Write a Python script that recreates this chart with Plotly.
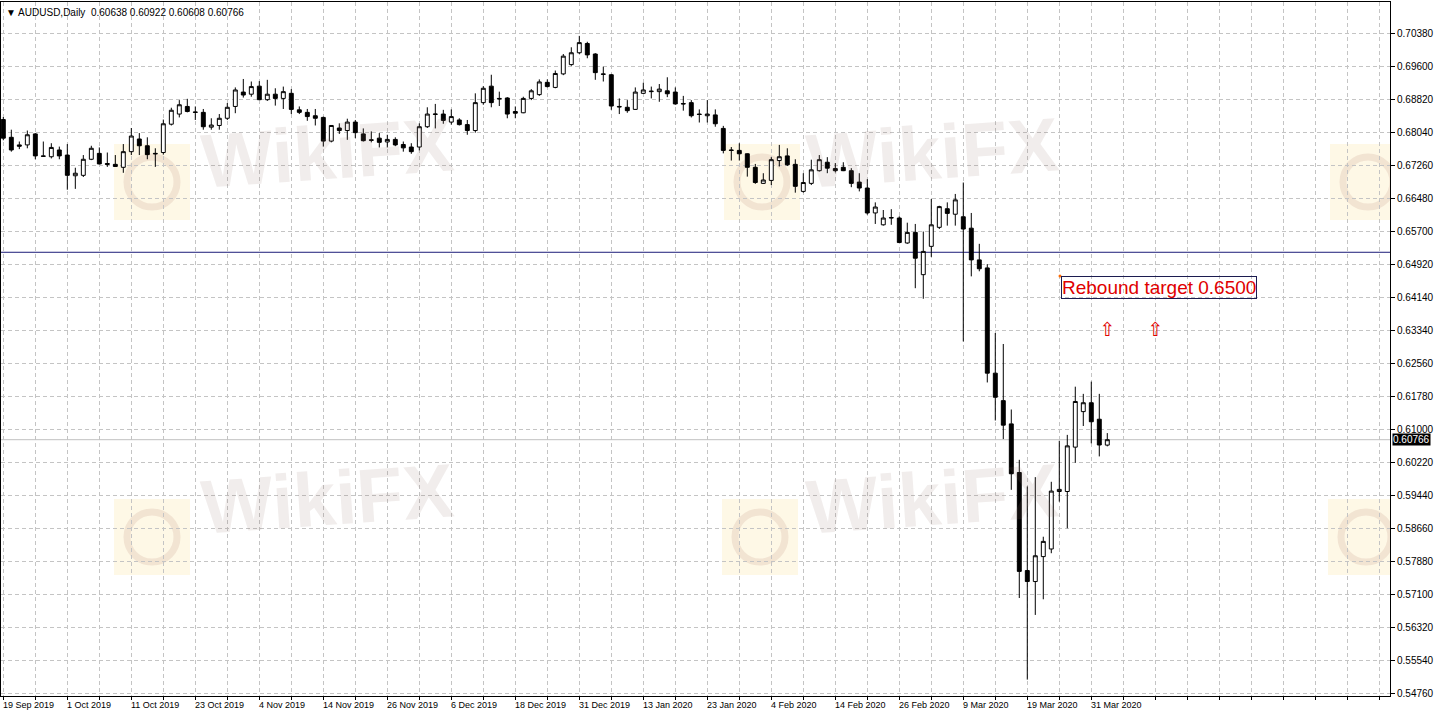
import plotly.graph_objects as go

# AUDUSD daily candles, 19 Sep 2019 .. 2 Apr 2020
opens = [0.6834, 0.6792, 0.6774, 0.6774, 0.6800, 0.6748, 0.6746, 0.6762, 0.6750, 0.6701,
         0.6702, 0.6740, 0.6754, 0.6730, 0.6728, 0.6721, 0.6758, 0.6788, 0.6772, 0.6754,
         0.6756, 0.6823, 0.6847, 0.6865, 0.6852, 0.6851, 0.6816, 0.6820, 0.6837, 0.6865,
         0.6899, 0.6894, 0.6913, 0.6881, 0.6894, 0.6884, 0.6896, 0.6857, 0.6851, 0.6843,
         0.6839, 0.6783, 0.6814, 0.6808, 0.6828, 0.6800, 0.6786, 0.6790, 0.6781, 0.6787,
         0.6775, 0.6769, 0.6769, 0.6817, 0.6846, 0.6847, 0.6828, 0.6833, 0.6822, 0.6808,
         0.6874, 0.6913, 0.6884, 0.6885, 0.6853, 0.6850, 0.6884, 0.6893, 0.6922, 0.6910,
         0.6942, 0.6964, 0.6992, 0.7014, 0.6989, 0.6942, 0.6940, 0.6865, 0.6863, 0.6858,
         0.6896, 0.6900, 0.6900, 0.6902, 0.6899, 0.6872, 0.6874, 0.6847, 0.6843, 0.6845,
         0.6813, 0.6762, 0.6761, 0.6753, 0.6721, 0.6683, 0.6690, 0.6737, 0.6748, 0.6728,
         0.6664, 0.6683, 0.6713, 0.6733, 0.6718, 0.6721, 0.6713, 0.6686, 0.6672, 0.6613,
         0.6585, 0.6601, 0.6601, 0.6542, 0.6567, 0.6467, 0.6534, 0.6579, 0.6623, 0.6610,
         0.6604, 0.6577, 0.6502, 0.6483, 0.6234, 0.6169, 0.6114, 0.5999, 0.5767, 0.5741,
         0.5800, 0.5818, 0.5954, 0.5954, 0.6059, 0.6143, 0.6164, 0.6125, 0.60638]
highs = [0.6840, 0.6810, 0.6782, 0.6808, 0.6802, 0.6782, 0.6778, 0.6770, 0.6776, 0.6720,
         0.6750, 0.6772, 0.6768, 0.6756, 0.6750, 0.6776, 0.6814, 0.6802, 0.6792, 0.6766,
         0.6834, 0.6862, 0.6880, 0.6883, 0.6865, 0.6859, 0.6837, 0.6847, 0.6873, 0.6910,
         0.6930, 0.6924, 0.6925, 0.6928, 0.6908, 0.6912, 0.6906, 0.6865, 0.6859, 0.6859,
         0.6841, 0.6821, 0.6825, 0.6836, 0.6833, 0.6813, 0.6806, 0.6802, 0.6798, 0.6792,
         0.6782, 0.6778, 0.6825, 0.6863, 0.6871, 0.6857, 0.6858, 0.6837, 0.6833, 0.6896,
         0.6913, 0.6940, 0.6900, 0.6887, 0.6865, 0.6888, 0.6906, 0.6929, 0.6929, 0.6950,
         0.6989, 0.7005, 0.7032, 0.7018, 0.6991, 0.6959, 0.6942, 0.6884, 0.6880, 0.6910,
         0.6921, 0.6912, 0.6918, 0.6934, 0.6910, 0.6890, 0.6880, 0.6858, 0.6880, 0.6858,
         0.6819, 0.6769, 0.6778, 0.6754, 0.6729, 0.6707, 0.6745, 0.6774, 0.6766, 0.6740,
         0.6707, 0.6739, 0.6750, 0.6745, 0.6731, 0.6733, 0.6719, 0.6707, 0.6693, 0.6638,
         0.6620, 0.6622, 0.6605, 0.6590, 0.6587, 0.6569, 0.6646, 0.6630, 0.6638, 0.6658,
         0.6685, 0.6613, 0.6540, 0.6492, 0.6329, 0.6303, 0.6148, 0.6029, 0.5966, 0.5988,
         0.5847, 0.5977, 0.6074, 0.6088, 0.6202, 0.6185, 0.6214, 0.6185, 0.60922]
lows = [0.6785, 0.6758, 0.6764, 0.6766, 0.6740, 0.6746, 0.6742, 0.6740, 0.6668, 0.6670,
        0.6698, 0.6738, 0.6728, 0.6722, 0.6722, 0.6708, 0.6750, 0.6750, 0.6740, 0.6722,
        0.6751, 0.6820, 0.6839, 0.6851, 0.6833, 0.6810, 0.6810, 0.6810, 0.6833, 0.6849,
        0.6886, 0.6888, 0.6880, 0.6878, 0.6867, 0.6859, 0.6847, 0.6847, 0.6831, 0.6820,
        0.6770, 0.6780, 0.6800, 0.6786, 0.6790, 0.6782, 0.6780, 0.6768, 0.6768, 0.6771,
        0.6758, 0.6753, 0.6761, 0.6814, 0.6813, 0.6824, 0.6822, 0.6820, 0.6798, 0.6803,
        0.6869, 0.6863, 0.6866, 0.6837, 0.6837, 0.6849, 0.6880, 0.6890, 0.6910, 0.6908,
        0.6939, 0.6961, 0.6989, 0.6979, 0.6928, 0.6924, 0.6857, 0.6847, 0.6850, 0.6857,
        0.6895, 0.6884, 0.6876, 0.6887, 0.6869, 0.6855, 0.6839, 0.6827, 0.6827, 0.6817,
        0.6754, 0.6737, 0.6737, 0.6699, 0.6682, 0.6682, 0.6679, 0.6723, 0.6724, 0.6661,
        0.6661, 0.6679, 0.6711, 0.6707, 0.6709, 0.6712, 0.6674, 0.6664, 0.6609, 0.6587,
        0.6583, 0.6585, 0.6542, 0.6540, 0.6435, 0.6410, 0.6509, 0.6575, 0.6583, 0.6583,
        0.6309, 0.6463, 0.6475, 0.6212, 0.6122, 0.6078, 0.5958, 0.5702, 0.5509, 0.5662,
        0.5699, 0.5808, 0.5930, 0.5867, 0.6022, 0.6109, 0.6068, 0.6037, 0.60608]
closes = [0.6790, 0.6762, 0.6771, 0.6798, 0.6748, 0.6747, 0.6768, 0.6748, 0.6702, 0.6707,
          0.6740, 0.6766, 0.6729, 0.6728, 0.6723, 0.6758, 0.6795, 0.6772, 0.6751, 0.6753,
          0.6824, 0.6856, 0.6869, 0.6853, 0.6851, 0.6817, 0.6821, 0.6837, 0.6863, 0.6904,
          0.6892, 0.6912, 0.6881, 0.6894, 0.6884, 0.6900, 0.6858, 0.6851, 0.6841, 0.6837,
          0.6783, 0.6820, 0.6808, 0.6828, 0.6803, 0.6784, 0.6785, 0.6780, 0.6787, 0.6774,
          0.6767, 0.6758, 0.6817, 0.6847, 0.6847, 0.6832, 0.6841, 0.6822, 0.6808, 0.6874,
          0.6908, 0.6874, 0.6883, 0.6847, 0.6849, 0.6884, 0.6902, 0.6923, 0.6912, 0.6943,
          0.6984, 0.6992, 0.7016, 0.6987, 0.6945, 0.6941, 0.6866, 0.6864, 0.6855, 0.6899,
          0.6904, 0.6901, 0.6906, 0.6895, 0.6871, 0.6871, 0.6843, 0.6846, 0.6847, 0.6824,
          0.6761, 0.6761, 0.6753, 0.6721, 0.6685, 0.6691, 0.6739, 0.6746, 0.6727, 0.6676,
          0.6685, 0.6715, 0.6739, 0.6719, 0.6713, 0.6713, 0.6683, 0.6672, 0.6613, 0.6627,
          0.6601, 0.6602, 0.6543, 0.6567, 0.6506, 0.6522, 0.6585, 0.6628, 0.6612, 0.6644,
          0.6575, 0.6502, 0.6481, 0.6234, 0.6177, 0.6111, 0.5996, 0.5765, 0.5741, 0.5802,
          0.5836, 0.5955, 0.5959, 0.6062, 0.6167, 0.6164, 0.6119, 0.6064, 0.60766]

# one date label every 8 bars, grid every 4 bars
date_labels = ["19 Sep 2019", "1 Oct 2019", "11 Oct 2019", "23 Oct 2019", "4 Nov 2019",
               "14 Nov 2019", "26 Nov 2019", "6 Dec 2019", "18 Dec 2019", "31 Dec 2019",
               "13 Jan 2020", "23 Jan 2020", "4 Feb 2020", "14 Feb 2020", "26 Feb 2020",
               "9 Mar 2020", "19 Mar 2020", "31 Mar 2020"]
label_step = 8
grid_step = 4

price_ticks = [0.70380, 0.69600, 0.68820, 0.68040, 0.67260, 0.66480, 0.65700, 0.64920,
               0.64140, 0.63340, 0.62560, 0.61780, 0.61000, 0.60220, 0.59440, 0.58660,
               0.57880, 0.57100, 0.56320, 0.55540, 0.54760]

bid_price = 0.60766
level_line = 0.6520
target_text = "Rebound target 0.6500"
arrow_bars = [138, 144]
arrow_price = 0.6332

bars = list(range(len(opens)))

AXIS_FONT = dict(family="Liberation Sans, Arial", size=10, color="black")
GRID = "#c4c4c4"

# pixel helpers for the decoration (plot area spans x 1..1390, y 2..696)
X_RANGE = [-0.29, 173.34]
Y_RANGE = [0.54702, 0.71121]


def px_x(px):
    return X_RANGE[0] + (px - 1) / 1389 * (X_RANGE[1] - X_RANGE[0])


def px_y(py):
    return Y_RANGE[1] - (py - 2) / 694 * (Y_RANGE[1] - Y_RANGE[0])


fig = go.Figure()

fig.add_trace(go.Candlestick(
    x=bars, open=opens, high=highs, low=lows, close=closes,
    increasing=dict(line=dict(color="black", width=1), fillcolor="white"),
    decreasing=dict(line=dict(color="black", width=1), fillcolor="black"),
    whiskerwidth=0, showlegend=False, hoverinfo="skip"))

fig.add_trace(go.Scatter(
    x=arrow_bars, y=[arrow_price] * len(arrow_bars), mode="text", text=["⇧"] * len(arrow_bars),
    textfont=dict(family="DejaVu Sans", size=19, color="#e00000"), showlegend=False,
    hoverinfo="skip"))

# watermark logos (pale squares) + text
logos = [(152, 182), (762, 182), (1368, 182), (152, 537), (760, 537), (1366, 537)]
for cx, cy in logos:
    fig.add_shape(type="rect", xref="x", yref="y", layer="below",
                  x0=px_x(cx - 38), x1=px_x(cx + 38), y0=px_y(cy + 38), y1=px_y(cy - 38),
                  fillcolor="rgba(252,222,140,0.22)", line=dict(width=0))
    fig.add_shape(type="circle", xref="x", yref="y", layer="below",
                  x0=px_x(cx - 25), x1=px_x(cx + 25), y0=px_y(cy + 25), y1=px_y(cy - 25),
                  fillcolor="rgba(0,0,0,0)", line=dict(color="rgba(190,140,120,0.18)", width=7))
for cx, cy in [(327, 152), (932, 152), (327, 498), (932, 498)]:
    fig.add_annotation(x=(cx - 1) / 1389, y=(696 - cy) / 694, xref="paper", yref="paper",
                       xanchor="center", yanchor="middle",
                       text="<b>WikiFX</b>", showarrow=False, textangle=-4,
                       font=dict(family="Liberation Sans", size=76, color="rgba(150,115,105,0.13)"))

fig.add_hline(y=level_line, line=dict(color="#1c1c78", width=1), layer="below")
fig.add_hline(y=bid_price, line=dict(color="#c0c0c0", width=1), layer="below")

# text object with its frame
fig.add_annotation(x=px_x(1061), y=px_y(276), xref="x", yref="y", xanchor="left",
                   yanchor="top", text=target_text, showarrow=False,
                   font=dict(family="Liberation Sans, Arial", size=19, color="#e00000"),
                   bordercolor="#1c1c50", borderwidth=1, borderpad=0, bgcolor="rgba(0,0,0,0)")
fig.add_trace(go.Scatter(x=[px_x(1060)], y=[px_y(276)], mode="markers",
                         marker=dict(size=3, color="#ff6a00"), showlegend=False,
                         hoverinfo="skip"))

# current price tag on the price scale
fig.add_annotation(x=1, y=bid_price, xref="paper", yref="y", xanchor="left", xshift=2,
                   text=f"{bid_price:.5f}", showarrow=False, bgcolor="black",
                   font=dict(AXIS_FONT, color="white"), borderpad=0)

# date labels, left-aligned on their bar like MT4
for i, lab in enumerate(date_labels):
    fig.add_annotation(x=i * label_step, y=0, xref="x", yref="paper", xanchor="left",
                       yanchor="top", xshift=-2, yshift=-2, text=lab, showarrow=False,
                       font=dict(family="Liberation Sans, Arial", size=9, color="black"))

fig.add_annotation(x=0, y=1, xref="paper", yref="paper", xanchor="left", yanchor="top",
                   xshift=3, yshift=-3, showarrow=False,
                   text="▼ AUDUSD,Daily  0.60638 0.60922 0.60608 0.60766",
                   font=dict(family="Liberation Sans, Arial", size=10, color="black"))

fig.update_layout(
    width=1436, height=717,
    margin=dict(l=1, r=46, t=2, b=21, pad=0),
    paper_bgcolor="white", plot_bgcolor="white",
    showlegend=False,
    font=AXIS_FONT,
)
fig.update_xaxes(
    range=X_RANGE, rangeslider_visible=False,
    tickvals=list(range(0, 174, grid_step)), showticklabels=False,
    ticks="outside", ticklen=3, tickcolor="black",
    showgrid=True, gridcolor=GRID, griddash="4px,3px", gridwidth=1,
    showline=True, mirror=True, linecolor="black", linewidth=1, zeroline=False)
fig.update_yaxes(
    range=Y_RANGE, side="right",
    tickvals=price_ticks, ticktext=[f"{v:.5f}" for v in price_ticks],
    ticks="outside", ticklen=4, tickcolor="black", tickfont=AXIS_FONT,
    showgrid=True, gridcolor=GRID, griddash="4px,3px", gridwidth=1,
    showline=True, mirror=True, linecolor="black", linewidth=1, zeroline=False)

fig.write_html("out.html", config={"displayModeBar": False},
               post_script="document.body.style.margin='0';")
